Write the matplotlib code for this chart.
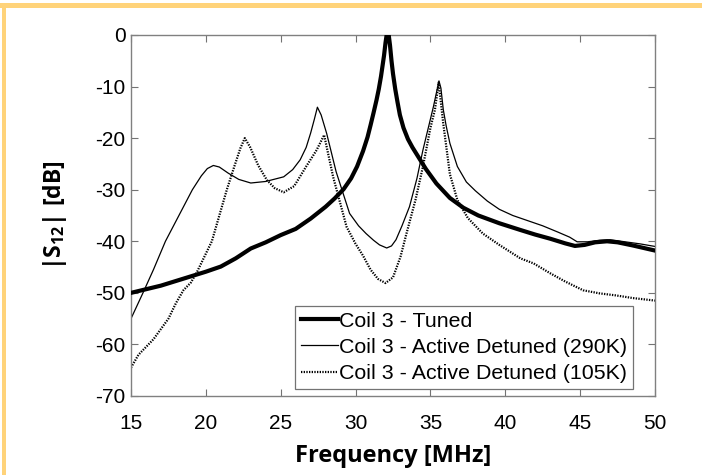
import matplotlib
matplotlib.use("Agg")
import matplotlib.pyplot as plt
from matplotlib.patches import Rectangle

# ---- data ----
freq_tuned = [15, 16, 17, 18, 19, 20, 21, 22, 23, 24, 25, 26, 27, 28, 28.6, 29.2, 29.7, 30.1,
              30.5, 30.8, 31.0, 31.2, 31.4, 31.55, 31.7, 31.8, 31.9, 32.0, 32.1, 32.15, 32.2,
              32.3, 32.4, 32.5, 32.65, 32.8, 32.96, 33.2, 33.5, 33.8, 34.1, 34.7, 35.4,
              36.3, 37.2, 38.2, 39.6, 41, 42, 43, 44, 44.65, 45.3, 46, 46.8, 47.5, 48.5, 50]
s12_tuned = [-50, -49.3, -48.6, -47.7, -46.8, -45.9, -44.9, -43.3, -41.4, -40.2, -38.8,
             -37.6, -35.6, -33.3, -31.7, -29.9, -27.8, -25.5, -22.5, -19.8, -17.5, -15.1,
             -12.6, -10.5, -8.0, -6.0, -4.0, -1.5, 0.5, 0.8, 0.3, -2.0, -5.0, -7.5, -10.5,
             -13.0, -15.5, -18.0, -20.2, -21.8, -23.2, -26.0, -28.8, -31.6, -33.5, -35.0,
             -36.5, -37.8, -38.7, -39.5, -40.4, -40.9, -40.7, -40.2, -40.0, -40.2, -40.8,
             -41.8]

freq_290k = [15, 15.8, 16.5, 17.3, 18.2, 19.1, 19.7, 20.1, 20.5, 20.9, 21.5, 22.2, 23.0,
             24.0, 25.2, 25.8, 26.3, 26.7, 27.0, 27.25, 27.45, 27.7, 28.07, 28.7, 29.6,
             30.2, 30.7, 31.2, 31.6, 32.08, 32.4, 32.7, 33.1, 33.6, 34.1, 34.5, 34.9, 35.2,
             35.4, 35.57, 35.7, 35.86, 36.05, 36.3, 36.8, 37.4, 38.0, 38.8, 39.6, 40.5,
             41.5, 42.5, 43.5, 44.3, 44.8, 45.5, 46.3, 47.0, 48.0, 49.0, 50]
s12_290k = [-55, -50, -45.5, -40, -35, -30, -27.3, -25.9, -25.3, -25.6, -26.8, -28.0, -28.7,
            -28.4, -27.5, -26.1, -24.2, -21.8, -19.0, -16.3, -14.0, -15.5, -19.1, -26.5,
            -34.6, -37.0, -38.5, -39.8, -40.7, -41.3, -40.9, -39.7, -37.0, -33.3, -27.8,
            -22.3, -17.5, -13.9, -11.2, -8.9, -10.3, -14.5, -17.6, -21, -25.5, -28.5,
            -30.2, -32.2, -33.8, -35.0, -36.0, -37.0, -38.2, -39.2, -40.1, -40.1, -39.8,
            -39.7, -40.1, -40.5, -41.0]

freq_105k = [15, 15.5, 16, 16.5, 17, 17.5, 18, 18.5, 19, 19.4, 19.9, 20.4, 20.9, 21.4,
             21.9, 22.3, 22.6, 22.95, 23.5, 24.07, 24.6, 25.2, 25.9, 26.7, 27.4, 27.9,
             28.5, 29.4, 30.0, 30.5, 31.0, 31.5, 32.0, 32.5, 33.0, 33.4, 34.0, 34.5, 35.0,
             35.3, 35.55, 35.85, 36.3, 36.8, 37.5, 38.5, 39.6, 41.0, 41.9, 43.0, 44.0,
             45.2, 46.3, 47.4, 48.5, 50]
s12_105k = [-64.5, -62, -60.5, -59, -57, -55, -52, -49.5, -48, -46, -43, -40, -35, -30,
            -25.5, -22, -20, -21.7, -25.3, -28.1, -29.7, -30.5, -29.3, -25.5, -22.3, -19.4,
            -27.5, -37.2, -40.5, -42.8, -45.5, -47.3, -48.1, -47, -43, -38.5, -32, -25.5,
            -18, -14.5, -9.2, -17, -27, -32, -35.5, -38.5, -40.7, -43.3, -44.3, -46.2,
            -47.8, -49.5, -50.1, -50.5, -51.0, -51.5]

labels = ["Coil 3 - Tuned", "Coil 3 - Active Detuned (290K)", "Coil 3 - Active Detuned (105K)"]
xticks = [15, 20, 25, 30, 35, 40, 45, 50]
yticks = [0, -10, -20, -30, -40, -50, -60, -70]

# ---- figure ----
plt.rcParams['mathtext.fontset'] = 'custom'
plt.rcParams['mathtext.rm'] = 'Open Sans'
plt.rcParams['mathtext.bf'] = 'Open Sans:bold'

W, H = 702, 475
fig = plt.figure(figsize=(W / 100, H / 100), dpi=100)
ax = fig.add_axes([131 / W, 1 - 396 / H, (655 - 131) / W, (396 - 35) / H])

ax.plot(freq_tuned, s12_tuned, color='black', lw=3.0, label=labels[0], zorder=3)
ax.plot(freq_290k, s12_290k, color='black', lw=0.9, label=labels[1], zorder=2)
ax.plot(freq_105k, s12_105k, color='black', lw=1.6, dashes=(0.6, 0.6), label=labels[2], zorder=2)

ax.set_xlim(15, 50)
ax.set_ylim(-70, 0)
ax.set_xticks(xticks)
ax.set_yticks(yticks)
ax.set_xticklabels([str(t) for t in xticks], family='Liberation Sans', fontsize=15)
ax.set_yticklabels([str(t) for t in yticks], family='Liberation Sans', fontsize=15)
ax.tick_params(direction='in', length=5, width=0.8, color='0.45', top=True, right=True,
               pad=4)
ax.tick_params(axis='x', pad=13)
for sp in ax.spines.values():
    sp.set_color('0.5')
    sp.set_linewidth(1.0)

ax.set_xlabel('Frequency [MHz]', family='Open Sans', fontweight='bold', fontsize=17,
              labelpad=8)
ax.set_ylabel(r'$\mathbf{|S_{12}|\ [dB]}$', fontsize=16.5, labelpad=19)

leg = ax.legend(loc='lower right', bbox_to_anchor=(0.958, 0.019), borderaxespad=0,
                prop={'family': 'Liberation Sans', 'size': 15.4}, frameon=True, fancybox=False,
                handlelength=1.72, handletextpad=0.05, labelspacing=0.34, borderpad=0.28)
leg.get_frame().set_edgecolor('0.45')
leg.get_frame().set_linewidth(0.9)
leg.get_frame().set_alpha(1)

# orange frame lines at top and left
border = '#FFD37A'
fig.add_artist(Rectangle((0, 1 - 8 / H), 1, 5 / H, transform=fig.transFigure,
                         color=border, lw=0))
fig.add_artist(Rectangle((2 / W, 0), 4 / W, 1 - 3 / H, transform=fig.transFigure,
                         color=border, lw=0))

fig.savefig('out.png', dpi=100)
